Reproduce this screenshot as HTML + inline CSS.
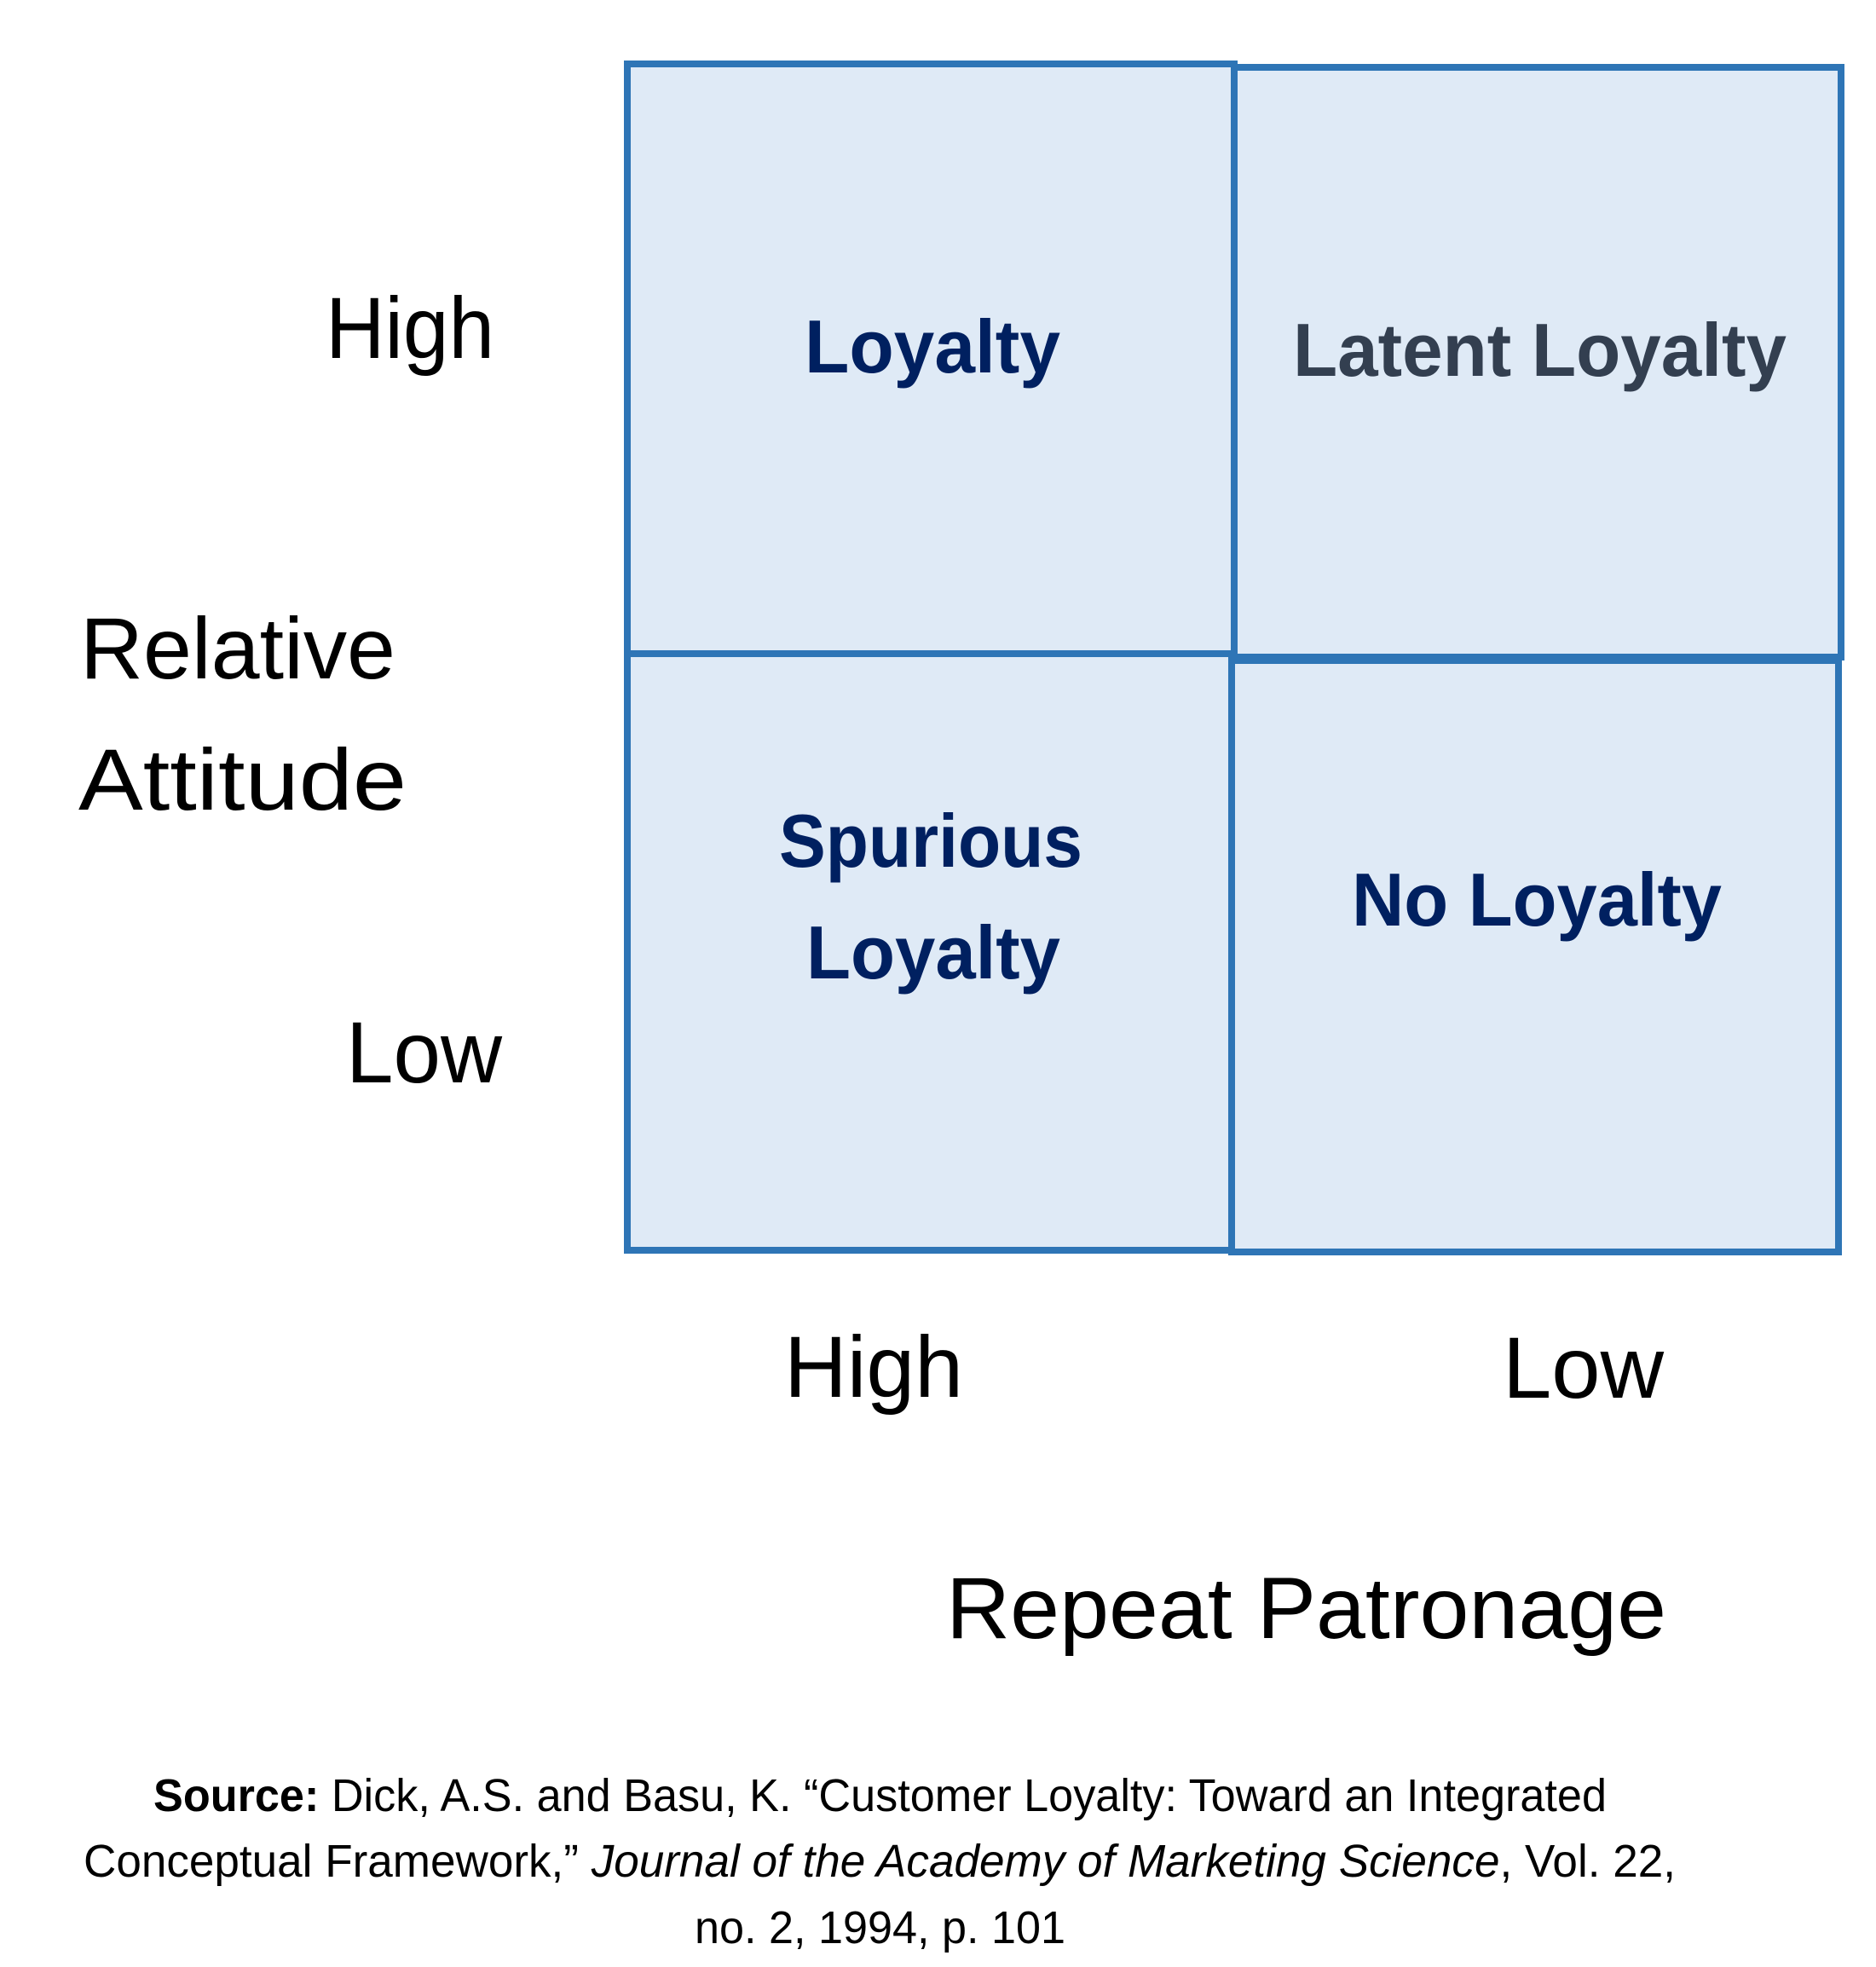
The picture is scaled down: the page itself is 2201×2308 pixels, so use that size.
<!DOCTYPE html>
<html><head><meta charset="utf-8"><style>
html,body{margin:0;padding:0;background:#fff;}
svg{display:block;}
text{font-family:"Liberation Sans",sans-serif;}
</style></head><body>
<svg width="2201" height="2308" viewBox="0 0 2201 2308" xmlns="http://www.w3.org/2000/svg">
<g fill="#dfeaf6" stroke="#2e75b6" stroke-width="8">
<rect x="736" y="75" width="712" height="692"/>
<rect x="1448" y="79" width="712" height="692"/>
<rect x="736" y="767" width="709" height="700"/>
<rect x="1445" y="775" width="712" height="694"/>
</g>
<g font-weight="bold" font-size="88" fill="#002060">
<text x="944" y="437" textLength="300" lengthAdjust="spacingAndGlyphs">Loyalty</text>
<text x="1517" y="441" textLength="579" lengthAdjust="spacingAndGlyphs" fill="#333f50">Latent Loyalty</text>
<text x="914" y="1017" textLength="356" lengthAdjust="spacingAndGlyphs">Spurious</text>
<text x="946" y="1148" textLength="298" lengthAdjust="spacingAndGlyphs">Loyalty</text>
<text x="1586" y="1086" textLength="434" lengthAdjust="spacingAndGlyphs">No Loyalty</text>
</g>
<g font-size="102" fill="#000">
<text x="382" y="420" textLength="198" lengthAdjust="spacingAndGlyphs">High</text>
<text x="94" y="796" textLength="370" lengthAdjust="spacingAndGlyphs">Relative</text>
<text x="92" y="950" textLength="385" lengthAdjust="spacingAndGlyphs">Attitude</text>
<text x="406" y="1270" textLength="183" lengthAdjust="spacingAndGlyphs">Low</text>
<text x="920" y="1639" textLength="210" lengthAdjust="spacingAndGlyphs">High</text>
<text x="1763" y="1640" textLength="189" lengthAdjust="spacingAndGlyphs">Low</text>
<text x="1110" y="1922" textLength="845" lengthAdjust="spacingAndGlyphs">Repeat Patronage</text>
</g>
<g font-size="54" fill="#000">
<text x="180" y="2125" textLength="1705" lengthAdjust="spacingAndGlyphs"><tspan font-weight="bold">Source:</tspan> Dick, A.S. and Basu, K. “Customer Loyalty: Toward an Integrated</text>
<text x="98" y="2202" textLength="1868" lengthAdjust="spacingAndGlyphs">Conceptual Framework,” <tspan font-style="italic">Journal of the Academy of Marketing Science</tspan>, Vol. 22,</text>
<text x="815" y="2280" textLength="435" lengthAdjust="spacingAndGlyphs">no. 2, 1994, p. 101</text>
</g>
</svg>
</body></html>
